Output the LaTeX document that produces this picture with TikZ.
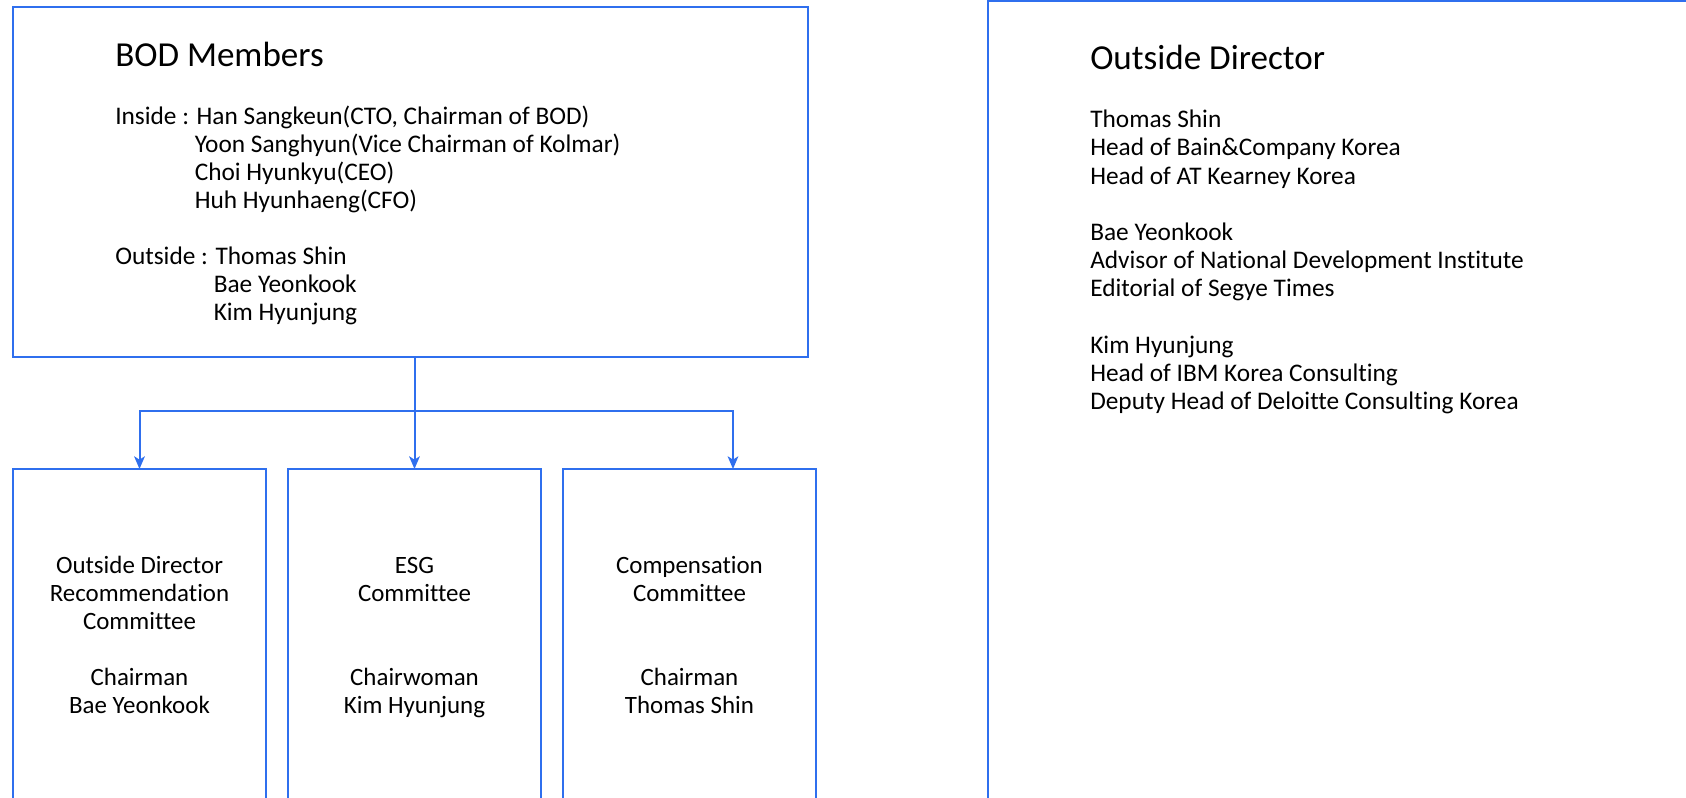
\documentclass[tikz,border=0pt]{standalone}
\usepackage{fontspec}
\setmainfont{Carlito}[Ligatures=NoCommon]
\usetikzlibrary{arrows.meta,calc}
\definecolor{kblue}{HTML}{2F6FEE}
\begin{document}
\begin{tikzpicture}[x=0.75pt,y=-0.75pt,
  box/.style={draw=kblue,line width=1.5pt,inner sep=0pt,outer sep=0pt,rectangle},
  link/.style={draw=kblue,line width=1.5pt,-{Stealth[length=9.5pt,width=8pt,inset=2.5pt]}},
  ttl/.style={anchor=base west,inner sep=0pt,font=\fontsize{26.3}{30}\selectfont},
  txt/.style={anchor=base west,inner sep=0pt,font=\fontsize{19}{21}\selectfont},
  ctx/.style={anchor=base,inner sep=0pt,font=\fontsize{18.7}{21}\selectfont}]
\useasboundingbox (0,0) rectangle (1686,798);
\clip (0,0) rectangle (1686,798);
\fill[white] (0,0) rectangle (1686,798);

% boxes
\node[box,minimum width=596.25pt,minimum height=262.5pt] (bod) at (410.8,182) {};
\node[box,minimum width=189.75pt,minimum height=270.75pt] (c1) at (139.5,649.5) {};
\node[box,minimum width=189.75pt,minimum height=270.75pt] (c2) at (414.5,649.5) {};
\node[box,minimum width=189.75pt,minimum height=270.75pt] (c3) at (689.5,649.5) {};
\node[box,minimum width=549pt,minimum height=621.4pt] (od) at (1354,415.75) {};

% connectors
\coordinate (top) at (bod.south -| c2.north);
\path (top) ++(0,53.7) coordinate (hub);
\draw[link] (hub) -| (c1.north);
\draw[link] (hub) -| ($(c3.north)+(43.5,0)$);
\draw[link] (top) -- (c2.north);

% BOD members text
\node[ttl] (t1) at (115,67) {BOD Members};
\node[txt] (i1) at (115,125) {Inside : Han Sangkeun(CTO, Chairman of BOD)};
\node[txt] (i2) at (194.5,153) {Yoon Sanghyun(Vice Chairman of Kolmar)};
\node[txt] (i3) at (194.5,181) {Choi Hyunkyu(CEO)};
\node[txt] (i4) at (194.5,209) {Huh Hyunhaeng(CFO)};
\node[txt] (o1) at (115,265) {Outside : Thomas Shin};
\node[txt] (o2) at (213.5,293) {Bae Yeonkook};
\node[txt] (o3) at (213.5,321) {Kim Hyunjung};

% committees
\node[ctx] (a1) at (139.5,573) {Outside Director};
\node[ctx] (a2) at (139.5,601) {Recommendation};
\node[ctx] (a3) at (139.5,629) {Committee};
\node[ctx] (a4) at (139.5,685) {Chairman};
\node[ctx] (a5) at (139.5,713.5) {Bae Yeonkook};

\node[ctx] (b1) at (414.5,573) {ESG};
\node[ctx] (b2) at (414.5,601) {Committee};
\node[ctx] (b4) at (414.5,685) {Chairwoman};
\node[ctx] (b5) at (414.5,713.5) {Kim Hyunjung};

\node[ctx] (d1) at (689.5,573) {Compensation};
\node[ctx] (d2) at (689.5,601) {Committee};
\node[ctx] (d4) at (689.5,685) {Chairman};
\node[ctx] (d5) at (689.5,713.5) {Thomas Shin};

% outside director text
\node[ttl] (r0) at (1090,70) {Outside Director};
\node[txt] (r1) at (1090,128) {Thomas Shin};
\node[txt] (r2) at (1090,156) {Head of Bain\&Company Korea};
\node[txt] (r3) at (1090,184.5) {Head of AT Kearney Korea};
\node[txt] (r4) at (1090,241) {Bae Yeonkook};
\node[txt] (r5) at (1090,269) {Advisor of National Development Institute};
\node[txt] (r6) at (1090,297) {Editorial of Segye Times};
\node[txt] (r7) at (1090,354) {Kim Hyunjung};
\node[txt] (r8) at (1090,382) {Head of IBM Korea Consulting};
\node[txt] (r9) at (1090,410) {Deputy Head of Deloitte Consulting Korea};
\end{tikzpicture}
\end{document}
